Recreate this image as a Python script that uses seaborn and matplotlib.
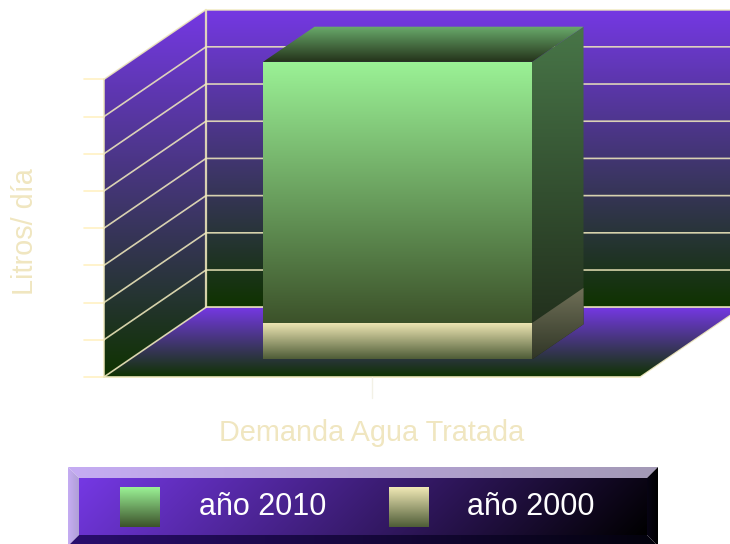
import numpy as np
import pandas as pd
import matplotlib
matplotlib.use("Agg")
import matplotlib.pyplot as plt
from matplotlib.patches import Polygon
import seaborn as sns

# ---- data ----
categories = ["Demanda Agua Tratada"]
series_names = ["año 2010", "año 2000"]
values_2010 = [8.0]
values_2000 = [0.98]
y_ticks = [0, 1, 2, 3, 4, 5, 6, 7, 8]
x_title = "Demanda Agua Tratada"
y_title = "Litros/ día"

df = pd.DataFrame({
    "cat": categories * 2,
    "serie": series_names,
    "valor": values_2010 + values_2000,
})

sns.set_theme(style="white")
plt.rcParams["font.family"] = ["Liberation Sans", "DejaVu Sans"]

W, H = 730, 544
fig = plt.figure(figsize=(W / 100, H / 100), dpi=100, facecolor="white")
ax = fig.add_axes([0, 0, 1, 1])
ax.patch.set_alpha(0)

# scale: one x unit and one value unit in pixels, front plane of the bars
UX, UY = 336.25, 37.2
CX, BASE = 397.5, 359.5
XLIM = ((0 - CX) / UX, (W - CX) / UX)
YLIM = ((BASE - H) / UY, BASE / UY)
DX, DY = 102 / UX, 69.7 / UY   # oblique depth vector, data units per full depth
D_FRONT, D_BACK = 0.25, 0.755  # depth span of bars
XL, XR = -0.797, 0.797         # category axis span


def P(x, v, d):
    """Oblique projection of (category x, value v, depth d) into axes data."""
    return (x + (d - D_FRONT) * DX, v + (d - D_FRONT) * DY)


def lerp(stops, n=256):
    pos = np.linspace(0, 1, len(stops))
    t = np.linspace(0, 1, n)
    arr = np.array(stops, float) / 255
    return np.stack([np.interp(t, pos, arr[:, i]) for i in range(3)], axis=1)


def grad_poly(a, pts, stops, z):
    """Fill a polygon with a vertical gradient."""
    pts = np.array(pts)
    x0, x1 = pts[:, 0].min(), pts[:, 0].max()
    y0, y1 = pts[:, 1].min(), pts[:, 1].max()
    img = lerp(stops)[:, None, :]
    im = a.imshow(img, extent=(x0, x1, y0, y1), origin="upper", aspect="auto",
                  zorder=z, interpolation="bilinear")
    clip = Polygon(pts, closed=True, transform=a.transData, fc="none", ec="none")
    a.add_patch(clip)
    im.set_clip_path(clip)
    return im


# bars through seaborn
sns.barplot(data=df, x="cat", y="valor", hue="serie", hue_order=series_names,
            dodge=False, width=0.8, legend=False, ax=ax, zorder=6)
ax.set_autoscale_on(False)
ax.set_xlim(*XLIM)
ax.set_ylim(*YLIM)

WALL = [(117, 56, 228), (15, 51, 0)]
vtop = y_ticks[-1]

# walls and floor
grad_poly(ax, [P(XL, 0, 1), P(XR, 0, 1), P(XR, vtop, 1), P(XL, vtop, 1)], WALL, 1)
grad_poly(ax, [P(XL, 0, 0), P(XL, 0, 1), P(XL, vtop, 1), P(XL, vtop, 0)], WALL, 1)
grad_poly(ax, [P(XL, 0, 0), P(XR, 0, 0), P(XR, 0, 1), P(XL, 0, 1)], WALL, 1)

LINE = "#EFE8BC"
for v in y_ticks:
    p0, p1, p2 = P(XL, v, 0), P(XL, v, 1), P(XR, v, 1)
    if 0 < v < vtop:
        ax.plot([p0[0], p1[0], p2[0]], [p0[1], p1[1], p2[1]], color=LINE, lw=1.2,
                alpha=0.88, zorder=2, solid_joinstyle="miter")
    t0 = (p0[0] - 20 / UX, p0[1])
    ax.plot([t0[0], p0[0]], [t0[1], p0[1]], color="#FFF1C4", lw=1.2, zorder=2)

# outlines of walls and floor
for a_, b_, w_ in [(P(XL, 0, 0), P(XL, vtop, 0), 1.2), (P(XL, vtop, 0), P(XL, vtop, 1), 1.1),
                   (P(XL, 0, 1), P(XL, vtop, 1), 1.6), (P(XL, vtop, 1), P(XR, vtop, 1), 1.1),
                   (P(XL, 0, 0), P(XL, 0, 1), 1.2), (P(XL, 0, 0), P(XR, 0, 0), 1.3),
                   (P(XL, 0, 1), P(XR, 0, 1), 1.3), (P(XR, 0, 0), P(XR, 0, 1), 0.9)]:
    ax.plot([a_[0], b_[0]], [a_[1], b_[1]], color=LINE, lw=w_, alpha=0.88, zorder=2)

# x tick below the floor
tx, ty = P(0, 0, 0)
ax.plot([tx, tx], [ty, ty - 21 / UY], color="#F3F1E6", lw=1.0, zorder=2)

# bar faces with gradients (geometry comes from seaborn's bar patches)
styles = [
    dict(front=[(155, 242, 150), (47, 60, 27)],
         legend=[(155, 242, 150), (60, 82, 42)],
         top=[(106, 172, 108), (36, 50, 26)],
         side=[(72, 118, 72), (30, 40, 24)]),
    dict(front=[(241, 233, 182), (78, 92, 55)],
         legend=[(241, 233, 182), (78, 92, 55)],
         top=None,
         side=[(112, 112, 88), (48, 54, 38)]),
]
bars = [b for b in ax.containers[0]] + [b for b in ax.containers[1]]
for i, (bar, st) in enumerate(zip(bars, styles)):
    x0, x1 = bar.get_x(), bar.get_x() + bar.get_width()
    v = bar.get_height()
    bar.set_facecolor("none")
    bar.set_edgecolor("none")
    z = 6 + i * 2
    grad_poly(ax, [P(x0, 0, D_FRONT), P(x1, 0, D_FRONT), P(x1, v, D_FRONT), P(x0, v, D_FRONT)],
              st["front"], z + 1)
    grad_poly(ax, [P(x1, 0, D_FRONT), P(x1, 0, D_BACK), P(x1, v, D_BACK), P(x1, v, D_FRONT)],
              st["side"], z)
    if st["top"]:
        grad_poly(ax, [P(x0, v, D_FRONT), P(x1, v, D_FRONT), P(x1, v, D_BACK), P(x0, v, D_BACK)],
                  st["top"], z)

ax.set_xlim(*XLIM)
ax.set_ylim(*YLIM)
ax.set_xticks([])
ax.set_yticks([])
sns.despine(ax=ax, left=True, bottom=True)

TITLE = "#F0E6C0"
ax.set_xlabel(x_title, fontsize=20.8, color=TITLE)
ax.xaxis.set_label_coords(372 / W, 1 - 433 / H)
ax.xaxis.label.set_verticalalignment("center")
ax.set_ylabel(y_title, fontsize=20.8, color=TITLE)
ax.yaxis.set_label_coords(25 / W, 1 - 231.5 / H)
ax.yaxis.label.set_verticalalignment("center")

# legend panel, in figure pixels
lg = fig.add_axes([0, 0, 1, 1])
lg.set_axis_off()
lg.patch.set_alpha(0)
lg.set_autoscale_on(False)
lg.set_xlim(0, W)
lg.set_ylim(H, 0)

L0, L1, T0, B1 = 68, 658, 467, 546
Li, Ri, Ti, Bi = 79, 647, 478, 535


def grad_h(pts, c0, c1, z=1):
    pts = np.array(pts)
    t = np.linspace(0, 1, 256)
    img = (np.outer(1 - t, c0) + np.outer(t, c1))[None, :, :] / 255
    im = lg.imshow(img, extent=(pts[:, 0].min(), pts[:, 0].max(), pts[:, 1].max(), pts[:, 1].min()),
                   aspect="auto", zorder=z, interpolation="bilinear")
    clip = Polygon(pts, closed=True, transform=lg.transData, fc="none", ec="none")
    lg.add_patch(clip)
    im.set_clip_path(clip)


# inner panel: gradient along the 45-degree pixel diagonal
w_in, h_in = Ri - Li, Bi - Ti
uu, vv = np.meshgrid(np.linspace(0, w_in, 400), np.linspace(0, h_in, 60))
tt = ((uu + vv) / (w_in + h_in))[..., None]
inner = (np.array([117, 56, 228]) * (1 - tt)) / 255
lg.imshow(inner, extent=(Li, Ri, Bi, Ti), aspect="auto", zorder=1, interpolation="bilinear")

grad_h([(L0, T0), (L1, T0), (Ri, Ti), (Li, Ti)], (197, 172, 243), (163, 153, 182))
grad_h([(L0, T0), (Li, Ti), (Li, Bi), (L0, B1)], (197, 172, 243), (176, 160, 214))
grad_h([(L0, B1), (Li, Bi), (Ri, Bi), (L1, B1)], (42, 14, 110), (3, 2, 12))
grad_h([(L1, T0), (Ri, Ti), (Ri, Bi), (L1, B1)], (8, 4, 20), (0, 0, 0))

swatch_left = [120, 389]
label_left = [199, 467]
swatch_colors = [styles[0]["legend"], styles[1]["legend"]]
for name, sx, tx_, cols in zip(series_names, swatch_left, label_left, swatch_colors):
    img = lerp(cols)[:, None, :]
    lg.imshow(img, extent=(sx, sx + 40, 527, 487), aspect="auto", zorder=3, interpolation="bilinear")
    lg.text(tx_, 507, name, color="white", fontsize=22, va="center", ha="left", zorder=4)

fig.savefig("out.png", dpi=100, facecolor="white")
